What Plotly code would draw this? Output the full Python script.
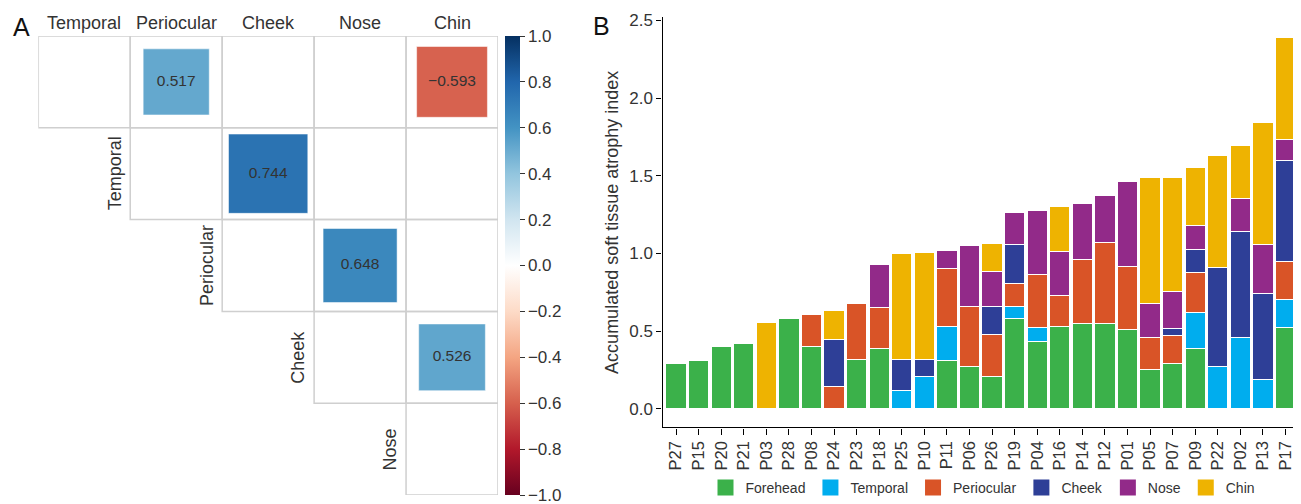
import math
import plotly.graph_objects as go

# ---------------- Panel B data ----------------
patients = ["P27", "P15", "P20", "P21", "P03", "P28", "P08", "P24", "P23", "P18",
            "P25", "P10", "P11", "P06", "P26", "P19", "P04", "P16", "P14", "P12",
            "P01", "P05", "P07", "P09", "P22", "P02", "P13", "P17"]
forehead = [0.29, 0.31, 0.40, 0.42, 0, 0.58, 0.40, 0, 0.32, 0.39,
            0, 0, 0.31, 0.27, 0.21, 0.58, 0.43, 0.53, 0.55, 0.55,
            0.51, 0.25, 0.29, 0.39, 0, 0, 0, 0.52]
temporal = [0, 0, 0, 0, 0, 0, 0, 0, 0, 0,
            0.12, 0.21, 0.22, 0, 0, 0.075, 0.09, 0, 0, 0,
            0, 0, 0, 0.23, 0.27, 0.46, 0.19, 0.18]
periocular = [0, 0, 0, 0, 0, 0, 0.205, 0.145, 0.36, 0.26,
              0, 0, 0.375, 0.39, 0.265, 0.15, 0.345, 0.20, 0.41, 0.52,
              0.405, 0.21, 0.18, 0.26, 0, 0, 0, 0.25]
cheek = [0, 0, 0, 0, 0, 0, 0, 0.30, 0, 0,
         0.20, 0.105, 0, 0, 0.18, 0.255, 0, 0, 0, 0,
         0, 0, 0.047, 0.145, 0.64, 0.68, 0.55, 0.65]
nose = [0, 0, 0, 0, 0, 0, 0, 0, 0, 0.28,
        0, 0, 0.115, 0.39, 0.23, 0.20, 0.41, 0.28, 0.36, 0.30,
        0.55, 0.22, 0.235, 0.155, 0, 0.215, 0.32, 0.13]
chin = [0, 0, 0, 0, 0.555, 0, 0, 0.19, 0, 0,
        0.68, 0.69, 0, 0, 0.18, 0, 0, 0.29, 0, 0,
        0, 0.81, 0.735, 0.375, 0.72, 0.34, 0.78, 0.66]
region_names = ["Forehead", "Temporal", "Periocular", "Cheek", "Nose", "Chin"]
region_colors = ["#3BB14A", "#00ADEE", "#D95427", "#2E3F97", "#922A89", "#EEB301"]
y_ticks = [0.0, 0.5, 1.0, 1.5, 2.0, 2.5]

# ---------------- Panel A data ----------------
row_labels = ["Forehead", "Temporal", "Periocular", "Cheek", "Nose"]
col_labels = ["Temporal", "Periocular", "Cheek", "Nose", "Chin"]
sig_row = ["Forehead", "Forehead", "Temporal", "Periocular", "Cheek"]
sig_col = ["Periocular", "Chin", "Cheek", "Nose", "Chin"]
sig_r = [0.517, -0.593, 0.744, 0.648, 0.526]
cbar_ticks = [1.0, 0.8, 0.6, 0.4, 0.2, 0.0, -0.2, -0.4, -0.6, -0.8, -1.0]

corr_scale = ["#67001F", "#B2182B", "#D6604D", "#F4A582", "#FDDBC7", "#FFFFFF",
              "#D1E5F0", "#92C5DE", "#4393C3", "#2166AC", "#053061"]

FONT = "Liberation Sans, Arial, sans-serif"
TXT = "#333333"

# The page body has an 8px default margin, so the figure is drawn 8px in
# from the window's top-left corner; size and position compensate for it.
OFF = 8
W, H = 1301 - OFF, 504 - OFF


def fx(px):
    return (px - OFF) / W


def fy(py):
    return 1 - (py - OFF) / H


# layout geometry (window px)
heat_x0, heat_x1, heat_y0, heat_y1 = 38.3, 498.0, 36.0, 495.0
bar_x0, bar_x1, bar_y0, bar_y1 = 662.5, 1299.0, 17.2, 427.4
cell_px = (heat_x1 - heat_x0) / len(col_labels)

fig = go.Figure()

# ---------------- Panel B: stacked bars ----------------
for name, vals, color in zip(region_names,
                             [forehead, temporal, periocular, cheek, nose, chin],
                             region_colors):
    fig.add_trace(go.Bar(x=patients, y=vals, name=name, showlegend=False,
                         marker=dict(color=color, line=dict(color="white", width=1)),
                         xaxis="x", yaxis="y", hoverinfo="x+y+name"))
# legend entries
for name, color in zip(region_names, region_colors):
    fig.add_trace(go.Scatter(x=[None], y=[None], mode="markers", name=name,
                             marker=dict(symbol="square", size=16, color=color,
                                         line=dict(color="white", width=0)),
                             xaxis="x", yaxis="y"))

# ---------------- Panel A: correlation squares ----------------
xs = [col_labels.index(c) + 0.5 for c in sig_col]
ys = [row_labels.index(r) + 0.5 for r in sig_row]
sizes = [math.sqrt(abs(v)) * cell_px for v in sig_r]
texts = [("\u2212%.3f" % abs(v)) if v < 0 else ("%.3f" % v) for v in sig_r]
colorscale = [[i / (len(corr_scale) - 1), c] for i, c in enumerate(corr_scale)]
fig.add_trace(go.Scatter(
    x=xs, y=ys, mode="markers+text", text=texts, textposition="middle center",
    textfont=dict(size=15.5, color=TXT, family=FONT),
    marker=dict(symbol="square", size=sizes, color=sig_r, cmin=-1, cmax=1,
                opacity=1, colorscale=colorscale,
                line=dict(color="rgba(255,255,255,0.5)", width=1),
                showscale=True,
                colorbar=dict(thickness=15, thicknessmode="pixels",
                              len=heat_y1 - heat_y0, lenmode="pixels",
                              x=fx(505), xanchor="left", xpad=0,
                              y=fy((heat_y0 + heat_y1) / 2), yanchor="middle", ypad=0,
                              outlinewidth=0, ticks="outside", ticklen=5,
                              tickcolor=TXT, tickwidth=1,
                              tickvals=cbar_ticks, ticklabeloverflow="allow",
                              ticktext=[("\u2212%.1f" % abs(t)) if t < 0 else ("%.1f" % t)
                                        for t in cbar_ticks],
                              tickfont=dict(size=17, color=TXT, family=FONT))),
    xaxis="x2", yaxis="y2", showlegend=False, hoverinfo="text"))

shapes = []
for ri, rname in enumerate(row_labels):
    for ci in range(ri, len(col_labels)):
        shapes.append(dict(type="rect", xref="x2", yref="y2",
                           x0=ci, x1=ci + 1, y0=ri, y1=ri + 1,
                           line=dict(color="#CFCFCF", width=1.5), layer="below"))

annotations = []
for ci, cname in enumerate(col_labels):
    annotations.append(dict(text=cname, xref="x2", yref="paper", x=ci + 0.5,
                            y=fy(23), yanchor="middle", xanchor="center",
                            showarrow=False, font=dict(size=18, color=TXT, family=FONT)))
for ri, rname in enumerate(row_labels):
    annotations.append(dict(text=rname, xref="x2", yref="y2", x=ri - 0.17,
                            y=ri + 0.5, textangle=-90, xanchor="center", yanchor="middle",
                            showarrow=False, font=dict(size=18, color=TXT, family=FONT)))
annotations.append(dict(text="A", xref="paper", yref="paper", x=fx(21.5), y=fy(27),
                        xanchor="center", yanchor="middle", showarrow=False,
                        font=dict(size=25, color="#111111", family=FONT)))
annotations.append(dict(text="B", xref="paper", yref="paper", x=fx(601.5), y=fy(26),
                        xanchor="center", yanchor="middle", showarrow=False,
                        font=dict(size=25, color="#111111", family=FONT)))

fig.update_layout(
    template="none",
    width=W, height=H,
    margin=dict(l=0, r=0, t=0, b=0, pad=0),
    paper_bgcolor="white", plot_bgcolor="white",
    font=dict(family=FONT, color=TXT),
    barmode="stack", bargap=0.1,
    shapes=shapes, annotations=annotations,
    xaxis=dict(domain=[fx(bar_x0), fx(bar_x1)], anchor="y", type="category",
               categoryorder="array", categoryarray=patients,
               range=[-0.6, len(patients) - 0.4], automargin=False,
               showline=True, linecolor="black", linewidth=1.3, mirror=False,
               ticks="outside", ticklen=6, tickcolor="black", tickwidth=1,
               tickangle=-90, tickfont=dict(size=16.5, color=TXT),
               showgrid=False, zeroline=False, fixedrange=True),
    yaxis=dict(domain=[fy(bar_y1), fy(bar_y0)], anchor="x",
               range=[-0.12, 2.52], tickvals=y_ticks, automargin=False,
               ticktext=["%.1f" % t for t in y_ticks],
               showline=True, linecolor="black", linewidth=1.3,
               ticks="outside", ticklen=5, tickcolor="black", tickwidth=1,
               tickfont=dict(size=17, color=TXT), showgrid=False, zeroline=False,
               title=dict(text="Accumulated soft tissue atrophy index",
                          font=dict(size=18, color=TXT), standoff=6)),
    xaxis2=dict(domain=[fx(heat_x0), fx(heat_x1)], anchor="y2", range=[0, 5],
                visible=False, fixedrange=True, automargin=False),
    yaxis2=dict(domain=[fy(heat_y1), fy(heat_y0)], anchor="x2", range=[5, 0],
                visible=False, fixedrange=True, automargin=False),
    legend=dict(orientation="h", x=fx(983), xanchor="center",
                y=0, yanchor="bottom", font=dict(size=14, color=TXT),
                bgcolor="rgba(0,0,0,0)", itemsizing="trace", tracegroupgap=0,
                traceorder="normal"),
)

fig.write_html("out.html")
